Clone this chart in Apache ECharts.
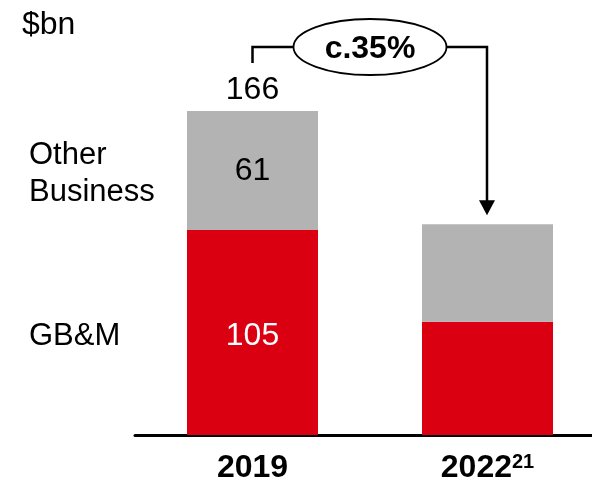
<!DOCTYPE html>
<html>
<head>
<meta charset="utf-8">
<style>
  html, body { margin: 0; padding: 0; background: #fff; }
  #chart { width: 592px; height: 481px; }
</style>
<script src="https://cdn.jsdelivr.net/npm/echarts@6/dist/echarts.min.js"></script>
</head>
<body>
<div id="chart"></div>
<script>
// Revenue split, $bn
const years = ['2019', '2022'];
const yearLabels = ['2019', '2022{sup|21}'];
const gbm = [105, 58];
const otherBusiness = [61, 50];
const totals = [166, 108];
const seriesNames = ['GB&M', 'Other Business'];
const changeLabel = 'c.35%';
const unitLabel = '$bn';

const RED = '#db0011';
const GREY = '#b3b3b3';
const FONT = '"Liberation Sans", Arial, sans-serif';

const chart = echarts.init(document.getElementById('chart'), null, { renderer: 'canvas' });

chart.setOption({
  animation: false,
  grid: { left: 135, width: 470, top: 44.64, height: 390.36, containLabel: false, outerBoundsMode: 'none' },
  xAxis: {
    type: 'category',
    data: years,
    offset: 2,
    axisLine: { lineStyle: { color: '#000', width: 3 } },
    axisTick: { show: false },
    axisLabel: {
      interval: 0,
      hideOverlap: false,
      margin: 15,
      color: '#000',
      fontFamily: FONT,
      fontSize: 32,
      fontWeight: 'bold',
      formatter: (v, i) => yearLabels[i],
      rich: {
        sup: { fontFamily: FONT, fontSize: 20, fontWeight: 'bold', color: '#000', verticalAlign: 'top', lineHeight: 20, padding: [0, 0, 12, 0] }
      }
    }
  },
  yAxis: { type: 'value', min: 0, max: 200, show: false, splitLine: { show: false } },
  series: [
    {
      name: seriesNames[0],
      type: 'bar',
      stack: 'rev',
      barWidth: 131,
      itemStyle: { color: RED },
      label: { show: true, position: 'inside', color: '#fff', fontFamily: FONT, fontSize: 32, offset: [0, 4] },
      data: gbm.map((v, i) => ({ value: v, label: { show: i === 0 } }))
    },
    {
      name: seriesNames[1],
      type: 'bar',
      stack: 'rev',
      barWidth: 131,
      itemStyle: { color: GREY },
      label: { show: true, position: 'inside', color: '#000', fontFamily: FONT, fontSize: 32, offset: [0, 1] },
      data: otherBusiness.map((v, i) => ({ value: v, label: { show: i === 0 } }))
    },
    {
      name: 'Total',
      type: 'scatter',
      symbolSize: 0,
      silent: true,
      itemStyle: { opacity: 1 },
      label: { show: true, position: 'top', distance: 5, color: '#000', opacity: 1, fontFamily: FONT, fontSize: 32, formatter: p => p.value[1] },
      data: [[years[0], totals[0]]]
    }
  ]
});

// Annotations anchored to the bars through the chart's own scales
function drawAnnotations() {
  const top19 = chart.convertToPixel({ xAxisIndex: 0, yAxisIndex: 0 }, [years[0], totals[0]]);
  const top22 = chart.convertToPixel({ xAxisIndex: 0, yAxisIndex: 0 }, [years[1], totals[1]]);
  const mid19 = chart.convertToPixel({ xAxisIndex: 0, yAxisIndex: 0 }, [years[0], gbm[0] + otherBusiness[0] / 2]);
  const midRed19 = chart.convertToPixel({ xAxisIndex: 0, yAxisIndex: 0 }, [years[0], gbm[0] / 2]);

  const bracketY = 47;
  const cx = (top19[0] + top22[0]) / 2;
  const x1 = top19[0];
  const x2 = top22[0] - 0.5;
  const arrowTip = top22[1] - 9;
  const lineStyle = { stroke: '#000', lineWidth: 2.5 };

  chart.setOption({
    graphic: [
      { type: 'text', left: 22, top: 9, style: { text: unitLabel, font: '32px ' + FONT, fill: '#000' } },
      { type: 'text', x: 29, y: mid19[1] + 3, style: { text: seriesNames[1].replace(' ', '\n'), font: '31px ' + FONT, fill: '#000', lineHeight: 37, verticalAlign: 'middle' } },
      { type: 'text', x: 29, y: midRed19[1] + 4, style: { text: seriesNames[0], font: '31px ' + FONT, fill: '#000', verticalAlign: 'middle' } },
      { type: 'polyline', shape: { points: [[x1, top19[1] - 48], [x1, bracketY], [x2, bracketY], [x2, arrowTip - 12]] }, style: Object.assign({ fill: null }, lineStyle) },
      { type: 'polygon', shape: { points: [[x2 - 8, arrowTip - 15], [x2 + 8, arrowTip - 15], [x2, arrowTip]] }, style: { fill: '#000' } },
      { type: 'ellipse', shape: { cx: cx, cy: bracketY, rx: 76.5, ry: 28 }, style: { fill: '#fff', stroke: '#000', lineWidth: 1.8 } },
      { type: 'text', x: cx, y: bracketY + 2, style: { text: changeLabel, font: 'bold 32px ' + FONT, fill: '#000', align: 'center', verticalAlign: 'middle' } }
    ]
  });
}
drawAnnotations();
</script>
</body>
</html>
